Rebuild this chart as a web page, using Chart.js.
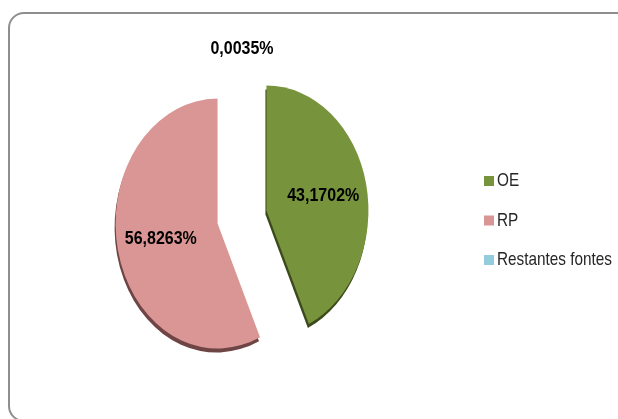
<!DOCTYPE html>
<html>
<head>
<meta charset="utf-8">
<script src="https://cdn.jsdelivr.net/npm/chart.js@4.4.1/dist/chart.umd.min.js"></script>
<style>
  body { margin: 0; background: #fff; }
  #moldura { position: absolute; left: 8px; top: 12px; width: 640px; height: 410px; box-sizing: border-box; border: 2px solid #8e8e8e; border-radius: 16px; }
  #grafico { position: absolute; left: 0; top: 0; }
</style>
</head>
<body>
<div id="moldura"></div>
<canvas id="grafico" width="618" height="419"></canvas>
<script>
// Dados do gráfico
const categorias = ['OE', 'RP', 'Restantes fontes'];
const valores = [43.1702, 56.8263, 0.0035];
const cores = ['#77933c', '#d99694', '#93cddd'];
const coresSombra = ['#3b4a1c', '#6e4444', '#4a7f8c'];

const FONTE = '"Liberation Sans", Arial, sans-serif';
const ESCALA_Y = 1.225;   // a pizza aparece esticada na vertical
const AFASTAMENTO = 25;   // fatias destacadas

function formatar(v) {
    return v.toFixed(4).replace('.', ',') + '%';
}

function deslocamento(arc) {
    const meio = (arc.startAngle + arc.endAngle) / 2;
    return { dx: Math.cos(meio) * AFASTAMENTO, dy: Math.sin(meio) * AFASTAMENTO, meio };
}

// Texto comprimido na horizontal (a fonte original é estreita)
function textoEstreito(ctx, texto, x, y, fator) {
    ctx.save();
    ctx.translate(x, y);
    ctx.scale(fator, 1);
    ctx.fillText(texto, 0, 0);
    ctx.restore();
}

// Desenha as fatias com o efeito 3D (sombra por baixo) e escala vertical
const pizza3d = {
    id: 'pizza3d',
    beforeDatasetsDraw(chart) {
        const ctx = chart.ctx;
        chart.getDatasetMeta(0).data.forEach((arc, i) => {
            const { dx, dy } = deslocamento(arc);
            ctx.save();
            ctx.translate(arc.x, arc.y);
            ctx.scale(1, ESCALA_Y);
            ctx.translate(-arc.x + dx, -arc.y + dy);
            ctx.shadowColor = coresSombra[i];
            ctx.shadowOffsetX = -1;
            ctx.shadowOffsetY = 4;
            ctx.shadowBlur = 0;
            arc.draw(ctx);
            ctx.restore();
        });
        return false;
    },
    afterDraw(chart) {
        const ctx = chart.ctx;
        // Rótulos de dados
        ctx.save();
        ctx.font = 'bold 19px ' + FONTE;
        ctx.fillStyle = '#000';
        ctx.textAlign = 'center';
        ctx.textBaseline = 'middle';
        const fatorRotulo = 72 / ctx.measureText('43,1702%').width;
        chart.getDatasetMeta(0).data.forEach((arc, i) => {
            const { dx, dy, meio } = deslocamento(arc);
            const pequena = (arc.endAngle - arc.startAngle) < 0.2;
            const r = pequena ? arc.outerRadius + 10 : arc.outerRadius * 0.57;
            const x = arc.x + dx + Math.cos(meio) * r;
            const yBase = arc.y + dy + Math.sin(meio) * r;
            const y = arc.y + (yBase - arc.y) * ESCALA_Y;
            textoEstreito(ctx, formatar(valores[i]), x, y, fatorRotulo);
        });
        ctx.restore();

        // Legenda
        ctx.save();
        ctx.font = '19px ' + FONTE;
        ctx.textAlign = 'left';
        ctx.textBaseline = 'middle';
        const fatorLegenda = 115 / ctx.measureText('Restantes fontes').width;
        categorias.forEach((nome, i) => {
            const y = 181 + i * 39.5;
            ctx.fillStyle = cores[i];
            ctx.fillRect(484, y - 5, 10, 10);
            ctx.fillStyle = '#262626';
            textoEstreito(ctx, nome, 497, y, fatorLegenda);
        });
        ctx.restore();
    }
};

const ctx = document.getElementById('grafico').getContext('2d');
const grafico = new Chart(ctx, {
    type: 'pie',
    data: {
        labels: categorias,
        datasets: [{
            data: valores,
            backgroundColor: cores,
            borderWidth: 0,
            offset: 0,
            hoverOffset: 0,
            radius: 102
        }]
    },
    options: {
        responsive: false,
        animation: false,
        layout: { padding: { left: 10, right: 144, top: 20, bottom: 5 } },
        plugins: {
            legend: { display: false },
            tooltip: { enabled: false }
        }
    },
    plugins: [pizza3d]
});
</script>
</body>
</html>
